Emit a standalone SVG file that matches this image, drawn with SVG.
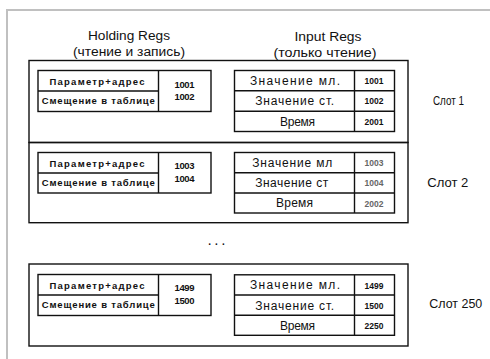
<svg xmlns="http://www.w3.org/2000/svg" width="490" height="359" viewBox="0 0 490 359">
<style>
.frame{fill:none;stroke:#c0c0c0;stroke-width:2}
.box{fill:none;stroke:#111;stroke-width:1.4}
.tb{fill:#fff;stroke:#111;stroke-width:1.4}
.ln{stroke:#111;stroke-width:1.4}
text{font-family:"Liberation Sans",Arial,sans-serif;fill:#111;text-anchor:middle}
.hdr{font-size:12px}
.hl{font-size:9.5px;font-weight:bold}
.hv{font-size:9.5px;font-weight:bold}
.il{font-size:12px}
.iv{font-size:8.5px;font-weight:bold}
.sl{font-size:12px;text-anchor:start}
.gray{fill:#666}
</style>
<rect width="490" height="359" fill="#fff"/>
<path class="frame" d="M7 359 V10 H490"/>
<g id="headers">
<text class="hdr" x="129" y="39.5" textLength="82" lengthAdjust="spacingAndGlyphs">Holding Regs</text>
<text class="hdr" x="129" y="56" textLength="112" lengthAdjust="spacingAndGlyphs">(чтение и запись)</text>
<text class="hdr" x="328" y="40.5" textLength="67" lengthAdjust="spacingAndGlyphs">Input Regs</text>
<text class="hdr" x="325" y="57" textLength="103" lengthAdjust="spacingAndGlyphs">(только чтение)</text>
</g>
<g id="slot1">
<rect class="box" x="29" y="60.5" width="379" height="82"/>
<rect class="tb" x="38" y="70.5" width="173" height="41"/>
<line class="ln" x1="158.5" y1="70.5" x2="158.5" y2="111.5"/>
<line class="ln" x1="38" y1="91" x2="158.5" y2="91"/>
<text class="hl" x="97" y="84.5" textLength="95" lengthAdjust="spacing">Параметр+адрес</text>
<text class="hl" x="98.3" y="104" textLength="113" lengthAdjust="spacing">Смещение в таблице</text>
<text class="hv" x="184.5" y="87.5" textLength="20" lengthAdjust="spacing">1001</text>
<text class="hv" x="184.5" y="99.5" textLength="20" lengthAdjust="spacing">1002</text>
<rect class="tb" x="234.5" y="70.5" width="160" height="61"/>
<line class="ln" x1="354.5" y1="70.5" x2="354.5" y2="131.5"/>
<line class="ln" x1="234.5" y1="90.8" x2="394.5" y2="90.8"/>
<line class="ln" x1="234.5" y1="111.2" x2="394.5" y2="111.2"/>
<text class="il" x="295" y="84.8" textLength="90" lengthAdjust="spacing">Значение мл.</text>
<text class="il" x="294.7" y="105.1" textLength="79" lengthAdjust="spacing">Значение ст.</text>
<text class="il" x="297.5" y="125.5" textLength="35" lengthAdjust="spacing">Время</text>
<text class="iv" x="374" y="84" textLength="19" lengthAdjust="spacing">1001</text>
<text class="iv" x="374" y="104.3" textLength="19" lengthAdjust="spacing">1002</text>
<text class="iv" x="374" y="124.7" textLength="19" lengthAdjust="spacing">2001</text>
<text class="sl" x="433" y="105" textLength="31" lengthAdjust="spacingAndGlyphs">Слот 1</text>
</g>
<g id="slot2">
<rect class="box" x="29" y="142.5" width="379" height="80.2"/>
<rect class="tb" x="38" y="152.5" width="173" height="40.5"/>
<line class="ln" x1="158.5" y1="152.5" x2="158.5" y2="193"/>
<line class="ln" x1="38" y1="173" x2="158.5" y2="173"/>
<text class="hl" x="97" y="166.5" textLength="95" lengthAdjust="spacing">Параметр+адрес</text>
<text class="hl" x="98.3" y="186" textLength="113" lengthAdjust="spacing">Смещение в таблице</text>
<text class="hv" x="184.5" y="168.5" textLength="20" lengthAdjust="spacing">1003</text>
<text class="hv" x="184.5" y="181.5" textLength="20" lengthAdjust="spacing">1004</text>
<rect class="tb" x="234.5" y="152.5" width="160" height="60.5"/>
<line class="ln" x1="354.5" y1="152.5" x2="354.5" y2="213"/>
<line class="ln" x1="234.5" y1="172.7" x2="394.5" y2="172.7"/>
<line class="ln" x1="234.5" y1="193" x2="394.5" y2="193"/>
<text class="il" x="292.3" y="166.8" textLength="80" lengthAdjust="spacing">Значение мл</text>
<text class="il" x="291.7" y="186.8" textLength="73" lengthAdjust="spacing">Значение ст</text>
<text class="il" x="294.5" y="207.1" textLength="37" lengthAdjust="spacing">Время</text>
<text class="iv gray" x="374" y="166" textLength="19" lengthAdjust="spacing">1003</text>
<text class="iv gray" x="374" y="186.3" textLength="19" lengthAdjust="spacing">1004</text>
<text class="iv gray" x="374" y="206.5" textLength="19" lengthAdjust="spacing">2002</text>
<text class="sl" x="427.3" y="187.3" font-size="13" textLength="41" lengthAdjust="spacingAndGlyphs">Слот 2</text>
</g>
<g id="ellipsis">
<text x="218.5" y="245" font-size="10" font-weight="bold" fill="#555" letter-spacing="4">...</text>
</g>
<g id="slot250">
<rect class="box" x="29" y="264" width="379" height="82"/>
<rect class="tb" x="38" y="274.5" width="173" height="41"/>
<line class="ln" x1="158.5" y1="274.5" x2="158.5" y2="315.5"/>
<line class="ln" x1="38" y1="295" x2="158.5" y2="295"/>
<text class="hl" x="97" y="288.5" textLength="95" lengthAdjust="spacing">Параметр+адрес</text>
<text class="hl" x="98.3" y="308" textLength="113" lengthAdjust="spacing">Смещение в таблице</text>
<text class="hv" x="184.5" y="291" textLength="20" lengthAdjust="spacing">1499</text>
<text class="hv" x="184.5" y="303.5" textLength="20" lengthAdjust="spacing">1500</text>
<rect class="tb" x="234.5" y="274.8" width="160" height="60.5"/>
<line class="ln" x1="354.5" y1="274.8" x2="354.5" y2="335.3"/>
<line class="ln" x1="234.5" y1="295" x2="394.5" y2="295"/>
<line class="ln" x1="234.5" y1="315.3" x2="394.5" y2="315.3"/>
<text class="il" x="295" y="289.3" textLength="90" lengthAdjust="spacing">Значение мл.</text>
<text class="il" x="294.7" y="309.6" textLength="79" lengthAdjust="spacing">Значение ст.</text>
<text class="il" x="297.5" y="329.8" textLength="35" lengthAdjust="spacing">Время</text>
<text class="iv" x="374" y="288.5" textLength="19" lengthAdjust="spacing">1499</text>
<text class="iv" x="374" y="308.8" textLength="19" lengthAdjust="spacing">1500</text>
<text class="iv" x="374" y="329" textLength="19" lengthAdjust="spacing">2250</text>
<text class="sl" x="429.3" y="307.5" textLength="53" lengthAdjust="spacingAndGlyphs">Слот 250</text>
</g>
</svg>
